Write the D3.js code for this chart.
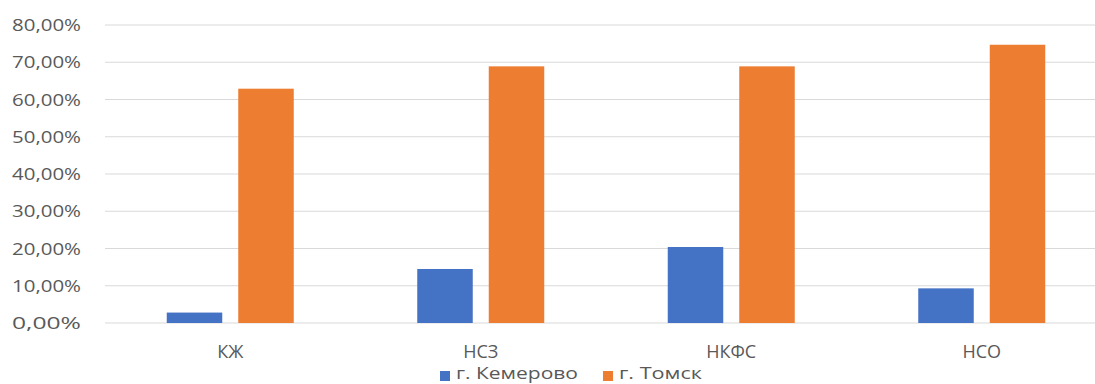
<!DOCTYPE html>
<html><head><meta charset="utf-8">
<script src="https://cdn.jsdelivr.net/npm/d3@7"></script>
<style>body{margin:0;background:#fff}svg{display:block}text{font-family:"Open Sans",sans-serif;fill:#595959}</style>
</head><body>
<script>
const categories = ["КЖ", "НСЗ", "НКФС", "НСО"];
const seriesNames = ["г. Кемерово", "г. Томск"];
const kemerovo = [2.8, 14.5, 20.4, 9.3];
const tomsk = [62.9, 68.9, 68.9, 74.7];
const yTicks = [0, 10, 20, 30, 40, 50, 60, 70, 80];
const colors = ["#4472C4", "#ED7D31"];

const W = 1095, H = 384;
const svg = d3.select("body").append("svg").attr("width", W).attr("height", H);
const x = d3.scaleBand().domain(categories).range([105, 1107]);
const y = d3.scaleLinear().domain([0, 80]).range([323, 25]);
const sub = d3.scaleBand().domain(seriesNames).range([0, 127]).paddingInner(16/71.5);

svg.append("g").selectAll("line").data(yTicks).join("line")
  .attr("x1", 105).attr("x2", W).attr("y1", d => y(d)).attr("y2", d => y(d))
  .attr("stroke", "#d9d9d9").attr("stroke-width", 1);

const fmt = d => d.toFixed(2).replace(".", ",") + "%";
svg.append("g").selectAll("text").data(yTicks).join("text")
  .attr("x", 81).attr("y", d => y(d)).attr("dy", "0.36em").attr("text-anchor", "end")
  .attr("font-size", 17).attr("textLength", 69).attr("lengthAdjust", "spacingAndGlyphs")
  .text(fmt);

const series = [kemerovo, tomsk];
series.forEach((vals, si) => {
  svg.append("g").selectAll("rect").data(categories).join("rect")
    .attr("x", d => x(d) + x.bandwidth()/2 - 63.5 + sub(seriesNames[si]))
    .attr("width", sub.bandwidth())
    .attr("y", (d, i) => y(vals[i]))
    .attr("height", (d, i) => y(0) - y(vals[i]))
    .attr("fill", colors[si]);
});

svg.append("g").selectAll("text").data(categories).join("text")
  .attr("x", d => x(d) + x.bandwidth()/2).attr("y", 358).attr("text-anchor", "middle")
  .attr("font-size", 18).text(d => d);

const legX = [440, 603];
const legW = [122, 83];
const lg = svg.append("g");
seriesNames.forEach((n, i) => {
  lg.append("rect").attr("x", legX[i]).attr("y", 371).attr("width", 10).attr("height", 10).attr("fill", colors[i]);
  lg.append("text").attr("x", legX[i] + 16).attr("y", 379).attr("font-size", 17)
    .attr("textLength", legW[i]).attr("lengthAdjust", "spacingAndGlyphs").text(n);
});
</script>
</body></html>
